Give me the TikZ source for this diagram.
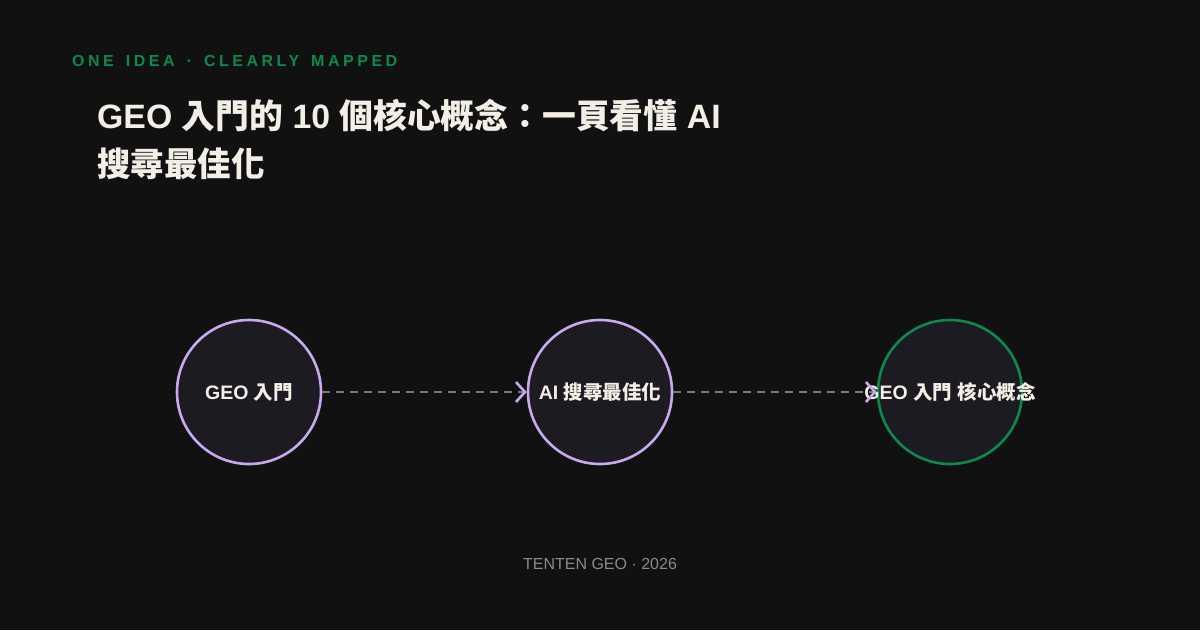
\documentclass[tikz,border=0pt]{standalone}
\usepackage{fontspec}
\setmainfont{Liberation Sans}
\newfontfamily\cjk{Noto Sans CJK TC}
\usetikzlibrary{arrows.meta}
\definecolor{bg}{HTML}{111111}
\definecolor{nodefill}{HTML}{1D1B22}
\definecolor{lav}{HTML}{C8A9F0}
\definecolor{grn}{HTML}{0A8A4C}
\definecolor{cream}{HTML}{F3EEE6}
\definecolor{foot}{HTML}{8A8A8A}
\definecolor{dash}{HTML}{7A777F}
\tikzset{
  concept/.style={circle, minimum size=144pt, inner sep=0pt, fill=nodefill, line width=2.6pt, text=cream, font=\fontsize{19.5}{22}\selectfont\bfseries},
  link/.style={draw=dash, line width=2.8pt, dash pattern=on 8pt off 6pt, -{Straight Barb[length=9pt,width=20pt,line width=2.6pt,color=lav]}}
}
\begin{document}
\begin{tikzpicture}[x=1pt,y=-1pt]
\fill[bg] (0,0) rectangle (1200,630);
\useasboundingbox (0,0) rectangle (1200,630);
\node[anchor=base west, inner sep=0pt, text=grn, font=\fontsize{16}{18}\selectfont\bfseries\addfontfeatures{LetterSpace=22}] (kicker) at (72,66) {ONE\hspace{12pt}IDEA\hspace{12pt}·\hspace{12pt}CLEARLY\hspace{12pt}MAPPED};
\node[anchor=base west, inner sep=0pt, text=cream, font=\fontsize{33.8}{40}\selectfont\bfseries] (title1) at (97,128) {GEO {\cjk 入門的} 10 {\cjk 個核心概念：一頁看懂} AI};
\node[anchor=base west, inner sep=0pt, text=cream, font=\fontsize{33.5}{40}\selectfont\bfseries] (title2) at (97,176) {\cjk 搜尋最佳化};
\node[concept, draw=lav] (a) at (249,392) {GEO {\cjk 入門}};
\node[concept, draw=lav] (b) at (600,392) {AI {\cjk 搜尋最佳化}};
\node[concept, draw=grn] (c) at (950,392) {\makebox[0pt]{GEO {\cjk 入門} {\cjk 核心概念}}};
\draw[link] (a) -- (b);
\draw[link] (b) -- (c);
\node[anchor=base, inner sep=0pt, text=foot, font=\fontsize{16}{19}\selectfont] (footer) at (600,569) {TENTEN GEO · 2026};
\end{tikzpicture}
\end{document}
